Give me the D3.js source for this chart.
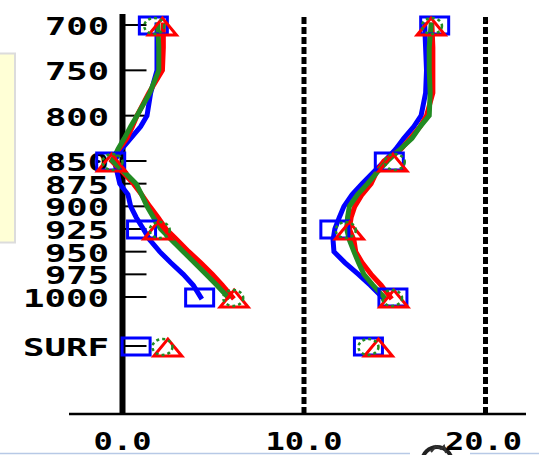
<!DOCTYPE html>
<html><head><meta charset="utf-8">
<script src="https://cdn.jsdelivr.net/npm/d3@7"></script>
<style>html,body{margin:0;padding:0;background:#fff;overflow:hidden}</style>
</head><body>
<script>
// ---- data ----
const levels = [700,725,750,775,800,812,825,837,850,862,875,887,900,912,925,937,950,962,975,987,1000];
const leftBlue  = [1.9,1.9,1.9,1.55,1.35,1.0,0.45,-0.05,-0.45,-0.3,-0.15,0.3,0.45,0.75,1.15,1.5,2.05,2.65,3.35,3.9,4.3];
const leftRed   = [2.25,2.25,2.2,1.45,0.8,0.55,0.25,-0.2,-0.6,0.0,0.6,1.05,1.5,1.95,2.4,3.0,3.65,4.3,4.95,5.5,6.05];
const leftGreen = [1.95,2.0,2.0,1.5,0.8,0.45,0.1,-0.25,-0.55,0.1,0.75,1.05,1.35,1.7,2.1,2.7,3.35,3.95,4.6,5.2,5.8];
const rightBlue  = [16.65,16.7,16.75,16.7,16.45,16.05,15.5,15.05,14.45,13.85,13.2,12.65,12.2,11.95,11.7,11.6,11.65,12.25,13.0,13.65,14.3];
const rightRed   = [17.05,17.1,17.1,17.1,16.75,16.4,15.85,15.35,14.4,14.0,13.7,13.2,12.8,12.6,12.5,12.75,12.85,13.2,13.7,14.25,14.75];
const rightGreen = [17.0,16.9,16.9,16.95,16.9,16.4,15.95,15.3,14.6,14.05,13.5,12.95,12.5,12.4,12.35,12.5,12.75,13.0,13.3,13.8,14.4];

const markerLevels = ["700","850","925","1000","SURF"];
const markBlueLeft   = [1.7,-0.65,1.05,4.25,0.75];
const markRedLeft    = [2.2,-0.6,1.95,6.15,2.5];
const markGreenLeft  = [1.75,-0.55,2.05,6.1,2.2];
const markBlueRight  = [17.2,14.7,11.7,14.9,13.55];
const markRedRight   = [17.0,14.9,12.5,14.95,14.1];
const markGreenRight = [17.05,15.0,12.3,14.85,13.55];

const yTickLabels = ["700","750","800","850","875","900","925","950","975","1000","SURF"];
const xTicks = [0,10,20];
const xTickLabels = ["0.0","10.0","20.0"];

// ---- layout ----
const W = 539, H = 455;
const svg = d3.select("body").append("svg").attr("width",W).attr("height",H);

const x = d3.scaleLinear().domain([0,20]).range([122.5,485.5]);
const y = d3.scaleLinear().domain([700,1000]).range([25,297]);
const surfY = y(1000) + 49;
const yPos = l => l === "SURF" ? surfY : y(+l);

// yellow side box
svg.append("rect").attr("x",-2).attr("y",53.5).attr("width",17).attr("height",189)
  .attr("fill","#FFFFD6").attr("stroke","#DCDCDC").attr("stroke-width",2);

// bottom decoration
svg.append("line").attr("x1",0).attr("x2",410).attr("y1",453.5).attr("y2",453.5).attr("stroke","#B7C9E6").attr("stroke-width",1.5);
svg.append("line").attr("x1",470).attr("x2",W).attr("y1",453.5).attr("y2",453.5).attr("stroke","#B7C9E6").attr("stroke-width",1.5);
svg.append("path").attr("d", d3.arc()({innerRadius:13,outerRadius:17,startAngle:-1.5,endAngle:1.5}))
  .attr("transform","translate(437,462)").attr("fill","#222");
svg.append("path").attr("d","M431,452 L436,446 L441,449 L444,446 L446,453").attr("fill","none").attr("stroke","#333").attr("stroke-width",2);

// bottom axis
svg.append("line").attr("x1",69).attr("x2",526).attr("y1",414).attr("y2",414).attr("stroke","#000").attr("stroke-width",2.5);

// zero line (solid) and dashed lines
svg.append("line").attr("x1",x(0)).attr("x2",x(0)).attr("y1",14).attr("y2",414).attr("stroke","#000").attr("stroke-width",6);
xTicks.slice(1).forEach(v=>{
  svg.append("line").attr("x1",x(v)).attr("x2",x(v)).attr("y1",17).attr("y2",414)
    .attr("stroke","#000").attr("stroke-width",5).attr("stroke-dasharray","7,3");
});

// y ticks
yTickLabels.forEach(l=>{
  const yy = yPos(l);
  svg.append("line").attr("x1",x(0)+2).attr("x2",x(0)+24).attr("y1",yy).attr("y2",yy).attr("stroke","#000").attr("stroke-width",2);
});

const fontFam = "'DejaVu Sans Mono', monospace";
yTickLabels.forEach(l=>{
  const n = l.length;
  svg.append("text").attr("x",110 - n*22 + 1).attr("y",yPos(l)+10)
    .attr("font-family",fontFam).attr("font-size",25).attr("font-weight","bold")
    .attr("textLength",n*22-2).attr("lengthAdjust","spacingAndGlyphs")
    .attr("fill","#000").text(l);
});
xTicks.forEach((v,i)=>{
  const l = xTickLabels[i], n = l.length;
  const len = n*19.3;
  svg.append("text").attr("x",x(v) - len/2 + (i===2?-2:0)).attr("y",450)
    .attr("font-family",fontFam).attr("font-size",25).attr("font-weight","bold")
    .attr("textLength",len).attr("lengthAdjust","spacingAndGlyphs")
    .attr("fill","#000").text(l);
});

// lines
const line = d3.line().x(d=>x(d[1])).y(d=>y(d[0]));
function drawLine(vals,color){
  svg.append("path").datum(levels.map((l,i)=>[l,vals[i]])).attr("d",line)
    .attr("fill","none").attr("stroke",color).attr("stroke-width",5)
    .attr("stroke-linejoin","miter").attr("stroke-linecap","square");
}
const BLUE="#0000FF", RED="#FF0000", GREEN="#228B22";
drawLine(leftBlue,BLUE); drawLine(rightBlue,BLUE);
drawLine(leftRed,RED); drawLine(rightRed,RED);
drawLine(leftGreen,GREEN); drawLine(rightGreen,GREEN);

// markers
function squares(vals){
  markerLevels.forEach((l,i)=>{
    svg.append("rect").attr("x",x(vals[i])-14).attr("y",yPos(l)-8).attr("width",28).attr("height",17)
      .attr("fill","none").attr("stroke",BLUE).attr("stroke-width",3);
  });
}
function triangles(vals){
  markerLevels.forEach((l,i)=>{
    const cx=x(vals[i]), cy=yPos(l);
    svg.append("path").attr("d",`M${cx-14},${cy+10}L${cx+14},${cy+10}L${cx},${cy-7}Z`)
      .attr("fill","none").attr("stroke",RED).attr("stroke-width",3);
  });
}
function rings(vals){
  markerLevels.forEach((l,i)=>{
    svg.append("ellipse").attr("cx",x(vals[i])).attr("cy",yPos(l)+1).attr("rx",10).attr("ry",8)
      .attr("fill","none").attr("stroke",GREEN).attr("stroke-width",2.5).attr("stroke-dasharray","3,3");
  });
}
squares(markBlueLeft); squares(markBlueRight);
triangles(markRedLeft); triangles(markRedRight);
rings(markGreenLeft); rings(markGreenRight);
</script>
</body></html>
